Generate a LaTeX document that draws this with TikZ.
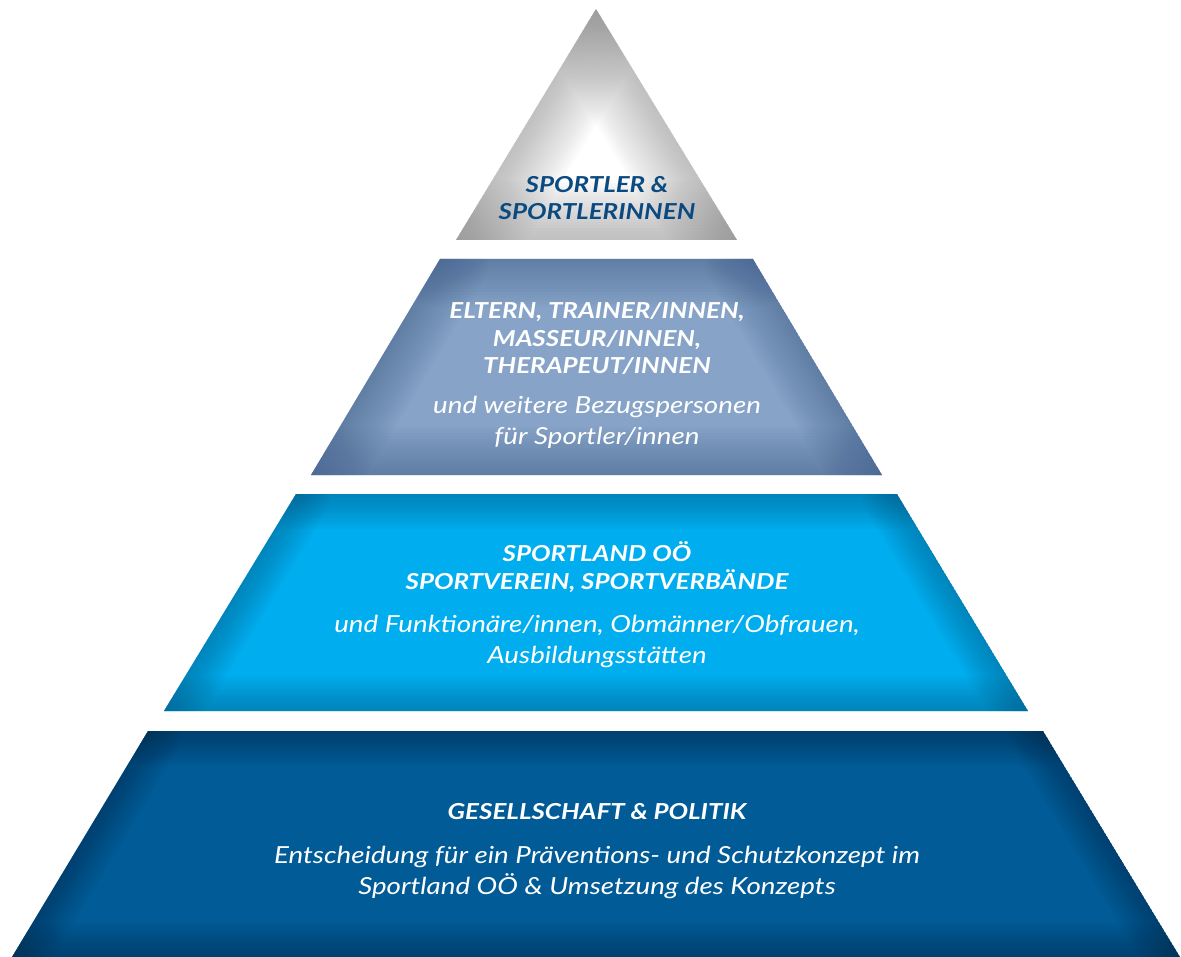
\documentclass[tikz,border=0pt]{standalone}
\usepackage{fontspec}
\setsansfont{Lato}[FakeStretch=1.18]
\renewcommand{\familydefault}{\sfdefault}
\usetikzlibrary{positioning}

\definecolor{athleteblue}{HTML}{0B4A80}
\definecolor{greyrim}{HTML}{808080}
\definecolor{steelmid}{HTML}{87A4C8}
\definecolor{steelrim}{HTML}{3E5C88}
\definecolor{cyanmid}{HTML}{00AEEF}
\definecolor{cyanrim}{HTML}{005B85}
\definecolor{navymid}{HTML}{005B97}
\definecolor{navyrim}{HTML}{002A4A}

\tikzset{
  head/.style={align=center,inner sep=0pt,text=white,
    font=\fontsize{22}{27.5}\selectfont\bfseries\itshape},
  sub/.style={align=center,inner sep=0pt,text=white,
    font=\fontsize{23.5}{30.5}\selectfont\itshape},
  glow/.style={line width=#1pt,opacity=.04,line cap=round}
}

\begin{document}
\begin{tikzpicture}[x=1pt,y=-1pt]
  \useasboundingbox (0,0) rectangle (1181,957);
  % corners of the four layers
  \coordinate (t1) at (596,9);
  \coordinate (t2) at (737,240);
  \coordinate (t3) at (456,240);
  \coordinate (p1) at (440,259);
  \coordinate (p2) at (753,259);
  \coordinate (p3) at (882,475);
  \coordinate (p4) at (311,475);
  \coordinate (c1) at (296,494);
  \coordinate (c2) at (897,494);
  \coordinate (c3) at (1028,711);
  \coordinate (c4) at (164,711);
  \coordinate (n1) at (148,731);
  \coordinate (n2) at (1043,731);
  \coordinate (n3) at (1180,957);
  \coordinate (n4) at (12,957);

  % top: athletes
  \begin{scope}
    \clip (t1) -- (t2) -- (t3) -- cycle;
    \fill[white] (t1) -- (t2) -- (t3) -- cycle;
    \foreach \w in {6,12,...,120}
      \foreach \a/\b in {t1/t2,t2/t3,t3/t1}
        \draw[greyrim,glow=\w,opacity=.028] (\a) -- (\b);
  \end{scope}
  % second: parents, trainers
  \begin{scope}
    \clip (p1) -- (p2) -- (p3) -- (p4) -- cycle;
    \fill[steelmid] (p1) -- (p2) -- (p3) -- (p4) -- cycle;
    \foreach \w in {6,12,...,96}
      \foreach \a/\b in {p1/p2,p2/p3,p3/p4,p4/p1}
        \draw[steelrim,glow=\w,opacity=.035] (\a) -- (\b);
  \end{scope}
  % third: clubs
  \begin{scope}
    \clip (c1) -- (c2) -- (c3) -- (c4) -- cycle;
    \fill[cyanmid] (c1) -- (c2) -- (c3) -- (c4) -- cycle;
    \foreach \w in {5,10,...,70}
      \foreach \a/\b in {c1/c2,c2/c3,c3/c4,c4/c1}
        \draw[cyanrim,glow=\w] (\a) -- (\b);
  \end{scope}
  % bottom: society
  \begin{scope}
    \clip (n1) -- (n2) -- (n3) -- (n4) -- cycle;
    \fill[navymid] (n1) -- (n2) -- (n3) -- (n4) -- cycle;
    \foreach \w in {5,10,...,70}
      \foreach \a/\b in {n1/n2,n2/n3,n3/n4,n4/n1}
        \draw[navyrim,glow=\w] (\a) -- (\b);
  \end{scope}

  \node[head,text=athleteblue] (athletes) at (597,198) {SPORTLER \&\\SPORTLERINNEN};

  \node[head] (parents) at (597,339) {ELTERN, TRAINER/INNEN,\\MASSEUR/INNEN,\\THERAPEUT/INNEN};
  \node[sub,below=21pt of parents] (parentsnote) {und weitere Bezugspersonen\\für Sportler/innen};

  \node[head] (clubs) at (597,567) {SPORTLAND OÖ\\SPORTVEREIN, SPORTVERBÄNDE};
  \node[sub,below=23pt of clubs] (clubsnote) {und Funktionäre/innen, Obmänner/Obfrauen,\\Ausbildungsstätten};

  \node[head] (society) at (597,812) {GESELLSCHAFT \& POLITIK};
  \node[sub,below=26pt of society] (societynote) {Entscheidung für ein Präventions- und Schutzkonzept im\\Sportland OÖ \& Umsetzung des Konzepts};
\end{tikzpicture}
\end{document}
